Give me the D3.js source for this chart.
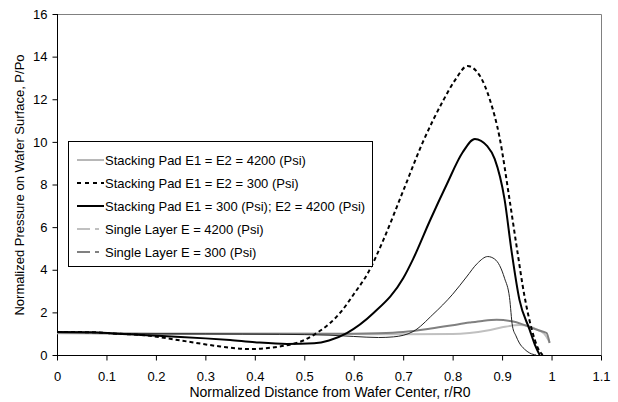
<!DOCTYPE html>
<html>
<head>
<meta charset="utf-8">
<script src="https://cdn.jsdelivr.net/npm/d3@7"></script>
<style>
  body { margin: 0; background: #fff; }
  text { font-family: "Liberation Sans", Arial, sans-serif; font-size: 13px; fill: #000; }
</style>
</head>
<body>
<script>
// DATA
var xTicks = [0, 0.1, 0.2, 0.3, 0.4, 0.5, 0.6, 0.7, 0.8, 0.9, 1, 1.1];
var yTicks = [0, 2, 4, 6, 8, 10, 12, 14, 16];

var thinX = [0, 0.07, 0.15, 0.3, 0.45, 0.55, 0.6, 0.65, 0.68, 0.72, 0.76, 0.8, 0.828, 0.85, 0.871, 0.885, 0.895, 0.905, 0.915, 0.921, 0.928, 0.935, 0.945, 0.956, 0.969];
var thinY = [1.05, 1.05, 1.0, 0.99, 0.97, 0.93, 0.87, 0.82, 0.85, 1.1, 1.9, 2.85, 3.66, 4.3, 4.62, 4.5, 4.2, 3.6, 2.7, 1.35, 0.9, 0.56, 0.28, 0.09, 0];

var dashX = [0, 0.07, 0.12, 0.17, 0.27, 0.33, 0.39, 0.45, 0.5, 0.525, 0.55, 0.575, 0.6, 0.63, 0.66, 0.7, 0.74, 0.78, 0.805, 0.83, 0.855, 0.875, 0.895, 0.915, 0.93, 0.945, 0.96, 0.972, 0.982];
var dashY = [1.08, 1.07, 1.0, 0.94, 0.61, 0.4, 0.28, 0.4, 0.7, 1.03, 1.45, 2.05, 2.85, 3.9, 5.4, 7.7, 10.0, 11.9, 12.9, 13.56, 13.1, 12.0, 10.2, 7.3, 5.0, 2.8, 1.2, 0.35, 0];

var thickX = [0, 0.07, 0.12, 0.17, 0.25, 0.3, 0.35, 0.4, 0.465, 0.52, 0.55, 0.586, 0.64, 0.7, 0.72, 0.754, 0.788, 0.82, 0.845, 0.87, 0.885, 0.905, 0.919, 0.935, 0.956, 0.966, 0.976];
var thickY = [1.08, 1.07, 1.0, 0.94, 0.85, 0.78, 0.7, 0.6, 0.52, 0.55, 0.68, 1.03, 1.97, 3.6, 4.5, 6.3, 8.0, 9.5, 10.14, 9.8, 9.2, 7.3, 4.9, 2.6, 1.17, 0.5, 0];

var lightX = [0, 0.2, 0.4, 0.6, 0.7, 0.8, 0.834, 0.87, 0.9, 0.935, 0.955, 0.97, 0.985, 0.996];
var lightY = [1.02, 1.0, 1.0, 0.98, 0.97, 0.98, 1.03, 1.15, 1.3, 1.41, 1.35, 1.2, 1.0, 0.6];

var grayX = [0, 0.1, 0.2, 0.3, 0.4, 0.5, 0.6, 0.65, 0.7, 0.75, 0.8, 0.834, 0.86, 0.889, 0.92, 0.94, 0.956, 0.975, 0.99, 0.996];
var grayY = [1.05, 1.02, 1.0, 1.0, 1.0, 1.0, 1.0, 1.02, 1.08, 1.22, 1.4, 1.52, 1.6, 1.65, 1.58, 1.45, 1.31, 1.15, 1.03, 0.56];

var labels = [
  'Stacking Pad E1 = E2 = 4200 (Psi)',
  'Stacking Pad E1 = E2 = 300 (Psi)',
  'Stacking Pad E1 = 300 (Psi); E2 = 4200 (Psi)',
  'Single Layer E = 4200 (Psi)',
  'Single Layer E = 300 (Psi)'
];

// SETTINGS
var settings = {
  width: 618, height: 402,
  left: 57, right: 601, top: 14, bottom: 355
};

// SERIES STYLES (draw order follows the picture)
var series = [
  { x: lightX, y: lightY, color: '#c0c0c0', size: 2, dash: null, legend: '13,5,4,6' },
  { x: grayX, y: grayY, color: '#808080', size: 2, dash: null, legend: '13,5,4,6' },
  { x: thinX, y: thinY, color: '#222', size: 1, dash: null, legend: null },
  { x: thickX, y: thickY, color: '#000', size: 2, dash: null, legend: null },
  { x: dashX, y: dashY, color: '#000', size: 2, dash: '4,3', legend: '4,4' }
];
var legendOrder = [2, 4, 3, 0, 1];
var legendColors = ['#707070', '#000', '#000', '#c0c0c0', '#808080'];
var legendSizes = [1, 2, 2, 2, 2];

var svg = d3.select('body').append('svg')
  .attr('width', settings.width)
  .attr('height', settings.height);

var x = d3.scaleLinear().domain([0, 1.1]).range([settings.left, settings.right]);
var y = d3.scaleLinear().domain([0, 16]).range([settings.bottom, settings.top]);

// PLOT FRAME (top and right in gray)
svg.append('path')
  .attr('d', 'M' + settings.left + ',' + (settings.top + 0.5) + 'H' + (settings.right + 0.5) + 'V' + settings.bottom)
  .attr('fill', 'none')
  .attr('stroke', '#808080')
  .attr('stroke-width', 1);

// X AXIS
var xAxis = svg.append('g')
  .attr('transform', 'translate(0,' + (settings.bottom + 0.5) + ')')
  .call(d3.axisBottom(x).tickValues(xTicks).tickSize(5).tickPadding(11).tickFormat(d3.format('')));
xAxis.select('.domain').attr('d', 'M' + (settings.left) + ',0H' + (settings.right + 0.5));

// Y AXIS
var yAxis = svg.append('g')
  .attr('transform', 'translate(' + (settings.left + 0.5) + ',0)')
  .call(d3.axisLeft(y).tickValues(yTicks).tickSize(5).tickPadding(5));
yAxis.select('.domain').attr('d', 'M0,' + settings.top + 'V' + (settings.bottom + 0.5));

svg.selectAll('.tick text').style('font-size', '13px').attr('fill', '#000');
svg.selectAll('.tick line, .domain').attr('stroke', '#000');

// AXIS TITLES
svg.append('text')
  .attr('x', 330)
  .attr('y', 397)
  .attr('text-anchor', 'middle')
  .style('font-size', '14px')
  .text('Normalized Distance from Wafer Center, r/R0');

svg.append('text')
  .attr('transform', 'translate(24,185) rotate(-90)')
  .attr('text-anchor', 'middle')
  .text('Normalized Pressure on Wafer Surface, P/Po');

// LINES
var line = d3.line().curve(d3.curveMonotoneX);
series.forEach(function (s) {
  var pts = s.x.map(function (d, i) { return [x(d), y(s.y[i])]; });
  svg.append('path')
    .attr('d', line(pts))
    .attr('fill', 'none')
    .attr('stroke', s.color)
    .attr('stroke-width', s.size)
    .attr('stroke-dasharray', s.dash);
});

// LEGEND
var legend = svg.append('g');
legend.append('rect')
  .attr('x', 68.5).attr('y', 141.5)
  .attr('width', 304).attr('height', 125)
  .attr('fill', '#fff')
  .attr('stroke', '#000')
  .attr('stroke-width', 1);

labels.forEach(function (label, i) {
  var s = series[legendOrder[i]];
  var ly = 160 + i * 23;
  legend.append('line')
    .attr('x1', 77).attr('x2', 104)
    .attr('y1', ly).attr('y2', ly)
    .attr('stroke', legendColors[i])
    .attr('stroke-width', legendSizes[i])
    .attr('stroke-dasharray', s.legend);
  legend.append('text')
    .attr('x', 105)
    .attr('y', ly + 5)
    .text(label);
});
</script>
</body>
</html>
